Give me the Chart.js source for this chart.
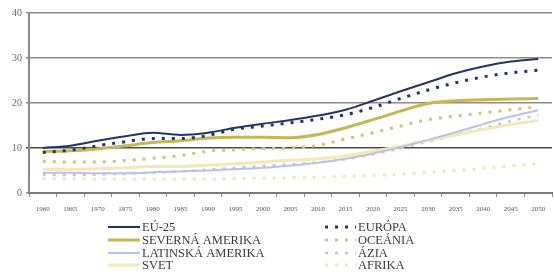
<!DOCTYPE html>
<html>
<head>
<meta charset="utf-8">
<script src="https://cdn.jsdelivr.net/npm/chart.js@4/dist/chart.umd.min.js"></script>
<style>
html,body{margin:0;padding:0;background:#fff;}
#wrap{position:relative;width:554px;height:277px;}
</style>
</head>
<body>
<div id="wrap"><canvas id="c" width="554" height="277"></canvas></div>
<script>
const years = ["1960","1965","1970","1975","1980","1985","1990","1995","2000","2005","2010","2015","2020","2025","2030","2035","2040","2045","2050"];
const yTicks = [0,10,20,30,40];

const eu25       = [10.0,10.5,11.6,12.6,13.4,12.9,13.4,14.5,15.4,16.2,17.2,18.5,20.5,22.6,24.6,26.6,28.1,29.2,29.8];
const severnaAm  = [9.2,9.4,9.8,10.5,11.2,11.6,12.2,12.4,12.4,12.3,13.0,14.5,16.3,18.2,19.9,20.5,20.7,20.9,21.0];
const latinskaAm = [4.5,4.5,4.4,4.4,4.6,4.8,5.0,5.3,5.6,6.1,6.7,7.6,8.8,10.2,11.8,13.5,15.3,17.0,18.4];
const svet       = [5.3,5.3,5.4,5.6,5.9,5.9,6.2,6.5,6.9,7.3,7.6,8.3,9.3,10.4,11.7,12.9,14.1,15.2,16.1];
const europa     = [9.0,9.5,10.5,11.4,12.1,12.1,12.8,14.2,14.9,15.6,16.4,17.4,19.0,21.0,22.9,24.5,25.8,26.7,27.3];
const oceania    = [7.0,6.9,6.9,7.2,7.7,8.3,9.3,9.6,9.9,10.0,10.6,12.0,13.4,14.9,16.3,17.1,17.8,18.5,19.2];
const azia       = [4.1,4.0,4.1,4.3,4.5,4.8,5.2,5.6,6.0,6.4,6.8,7.5,8.6,9.9,11.4,12.9,14.4,16.0,17.3];
const afrika     = [3.2,3.1,3.1,3.1,3.1,3.1,3.1,3.2,3.3,3.4,3.5,3.7,3.9,4.2,4.6,5.0,5.5,6.0,6.5];

function ds(label, data, color, width, dash) {
  return {label, data, borderColor: color, backgroundColor: color, borderWidth: width,
    borderDash: dash || [], borderCapStyle: 'butt',
    pointRadius: 0, fill: false, tension: 0.4, cubicInterpolationMode: 'monotone'};
}

const datasets = [
  ds("EÚ-25", eu25, "#1f3768", 2),
  ds("SEVERNÁ AMERIKA", severnaAm, "#c8b655", 3),
  ds("LATINSKÁ AMERIKA", latinskaAm, "#b7c2ec", 2),
  ds("SVET", svet, "#f4e9b0", 3),
  ds("EURÓPA", europa, "#1f3768", 3, [3, 7]),
  ds("OCEÁNIA", oceania, "#cfc47c", 3, [3, 7]),
  ds("ÁZIA", azia, "#c6c1ea", 2.5, [3, 7]),
  ds("AFRIKA", afrika, "#efe9b0", 3, [3, 7])
];
datasets.forEach((d, i) => d.order = [1,3,5,6,2,4,7,8][i]);

const legendPlugin = {
  id: 'customLegend',
  afterDraw(chart) {
    const ctx = chart.ctx;
    const rowsY = [227, 240, 253, 265];
    ctx.save();
    ctx.font = '12.5px "Liberation Serif", "DejaVu Serif", serif';
    ctx.textBaseline = 'middle';
    chart.data.datasets.forEach((d, i) => {
      const col = i < 4 ? 0 : 1;
      const row = i % 4;
      const y = rowsY[row];
      const x0 = col === 0 ? 108 : 325;
      const x1 = col === 0 ? 140 : 356;
      const tx = col === 0 ? 142 : 358;
      ctx.strokeStyle = d.borderColor;
      ctx.lineWidth = d.borderWidth;
      ctx.setLineDash(d.borderDash);
      ctx.lineCap = 'butt';
      ctx.beginPath();
      ctx.moveTo(x0, y);
      ctx.lineTo(x1, y);
      ctx.stroke();
      ctx.setLineDash([]);
      ctx.fillStyle = '#3a3a3a';
      ctx.fillText(d.label, tx, y + 0.5);
    });
    ctx.restore();
  }
};

new Chart(document.getElementById('c'), {
  type: 'line',
  data: { labels: years, datasets },
  plugins: [legendPlugin],
  options: {
    responsive: false,
    animation: false,
    layout: { padding: { top: 13, right: 2, bottom: 59, left: 0 } },
    plugins: { legend: { display: false }, tooltip: { enabled: false } },
    scales: {
      x: {
        type: 'category',
        offset: true,
        grid: { offset: true, drawOnChartArea: false, tickLength: 4, color: '#8a8a8a', lineWidth: 1 },
        border: { color: '#7a7a7a', width: 2 },
        ticks: { font: { family: '"Liberation Serif", "DejaVu Serif", serif', size: 7 }, color: '#555', padding: 8, maxRotation: 0, autoSkip: false },
        afterFit(s) { s.height = 25; }
      },
      y: {
        min: 0, max: 40,
        afterBuildTicks(s) { s.ticks = yTicks.map(v => ({ value: v })); },
        grid: {
          color: ctx => ctx.tick && ctx.tick.value === 10 ? '#4a4a4a' : '#8c8c8c',
          lineWidth: 1.5, tickLength: 3
        },
        border: { color: '#8a8a8a', width: 2 },
        ticks: { font: { family: '"Liberation Serif", "DejaVu Serif", serif', size: 10 }, color: '#666', padding: 4 },
        afterFit(s) { s.width = 29; }
      }
    }
  }
});
</script>
</body>
</html>
